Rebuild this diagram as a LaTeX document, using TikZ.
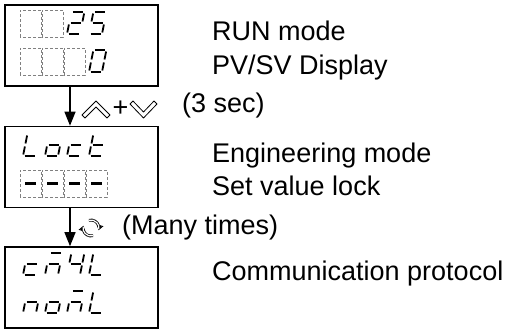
\documentclass[tikz,border=0pt]{standalone}
\usepackage{fontspec}
\setmainfont{Liberation Sans}
\usetikzlibrary{arrows.meta}

% seven segment pieces, origin at bottom left of a digit
\def\sega{(1.5,-22)--(11.5,-22)}
\def\segb{(13,-20.5)--(13,-12.5)}
\def\segc{(13,-9.5)--(13,-1.5)}
\def\segd{(1.5,0)--(11.5,0)}
\def\sege{(0,-1.5)--(0,-9.5)}
\def\segf{(0,-12.5)--(0,-20.5)}
\def\segg{(1.5,-11)--(11.5,-11)}

\newcommand{\segchar}[3]{%
	\begin{scope}[shift={(#1,#2)}, xslant=0.2]
		\foreach \s in {#3} {\draw[seg] \csname seg\s\endcsname;}
	\end{scope}}
\newcommand{\blankcell}[2]{\draw[cell] (#1,#2) rectangle ++(21,-27);}

\tikzset{
	panel/.style={draw, line width=1.6pt, minimum width=153pt, minimum height=81pt, inner sep=0pt},
	note/.style={anchor=base west, inner sep=0pt, font=\fontsize{27}{30}\selectfont},
	flow/.style={line width=1.3pt, -{Triangle[width=11pt,length=14pt]}},
	cell/.style={draw=gray, densely dashed, line width=0.7pt},
	seg/.style={line width=1.8pt},
	keyshape/.style={draw, line width=0.8pt, fill=white, line join=round},
}

\begin{document}
\begin{tikzpicture}[x=1pt, y=-1pt]
	\useasboundingbox (0,0) rectangle (514,331);

	% the three display panels
	\node[panel] (run) at (81.5,45.5) {};
	\node[panel] (eng) at (81.5,167) {};
	\node[panel] (comm) at (81.5,287.5) {};

	% run mode: 25 / 0
	\blankcell{20}{37} \blankcell{42}{37}
	\segchar{67}{34}{a,b,g,e,d}
	\segchar{89}{34}{a,f,g,c,d}
	\blankcell{20}{75} \blankcell{42}{75} \blankcell{64}{75}
	\segchar{89}{72}{a,b,c,d,e,f}

	% engineering mode: Lock / ----
	\segchar{23}{156}{f,e,d}
	\segchar{45}{156}{g,c,d,e}
	\segchar{67}{156}{g,e,d}
	\segchar{89}{156}{f,e,g,d}
	\foreach \i in {0,1,2,3} {
		\blankcell{20+22*\i}{197}
		\draw[line width=3pt] (25+22*\i,183.5) -- ++(11,0);
	}

	% communication protocol
	\segchar{23}{275}{g,e,d}
	\segchar{45}{275}{a,g,e,c}
	\segchar{67}{275}{f,g,b,c}
	\segchar{89}{275}{f,e,d}
	\segchar{23}{313}{g,e,c}
	\segchar{45}{313}{g,c,d,e}
	\segchar{67}{313}{a,g,e,c}
	\segchar{89}{313}{f,e,d}

	% connectors
	\draw[flow] ([xshift=-11.5pt]run.south) -- ([xshift=-11.5pt]eng.north);
	\draw[flow] ([xshift=-11.5pt]eng.south) -- ([xshift=-11.5pt]comm.north);

	% key symbols
	\draw[keyshape] (82,115) -- (96,101) -- (110,115) -- (107,118) -- (96,107) -- (85,118) -- cycle;
	\node[inner sep=0pt, font=\fontsize{27}{30}\selectfont] (plus) at (120.5,109) {+};
	\draw[keyshape] (130,104) -- (143.5,118) -- (157,104) -- (154,101) -- (143.5,112) -- (133,101) -- cycle;
	\foreach \a in {75,255} {
		\draw[line width=2.8pt, -{Triangle[open, length=5pt, width=7pt, line width=0.8pt]}] (91,228) ++(\a:8) arc (\a:\a+120:8);
		\draw[white, line width=1.2pt] (91,228) ++(\a+2:8) arc (\a+2:\a+114:8);
	}

	% texts
	\node[note] (runtxt) at (212,41) {RUN mode};
	\node[note] (pvsv) at (212,75) {PV/SV Display};
	\node[note] (hold) at (182,113) {(3 sec)};
	\node[note] (engtxt) at (212,163) {Engineering mode};
	\node[note] (lock) at (212,196) {Set value lock};
	\node[note] (many) at (122,234) {(Many times)};
	\node[note] (commtxt) at (212,280) {Communication protocol};
\end{tikzpicture}
\end{document}
